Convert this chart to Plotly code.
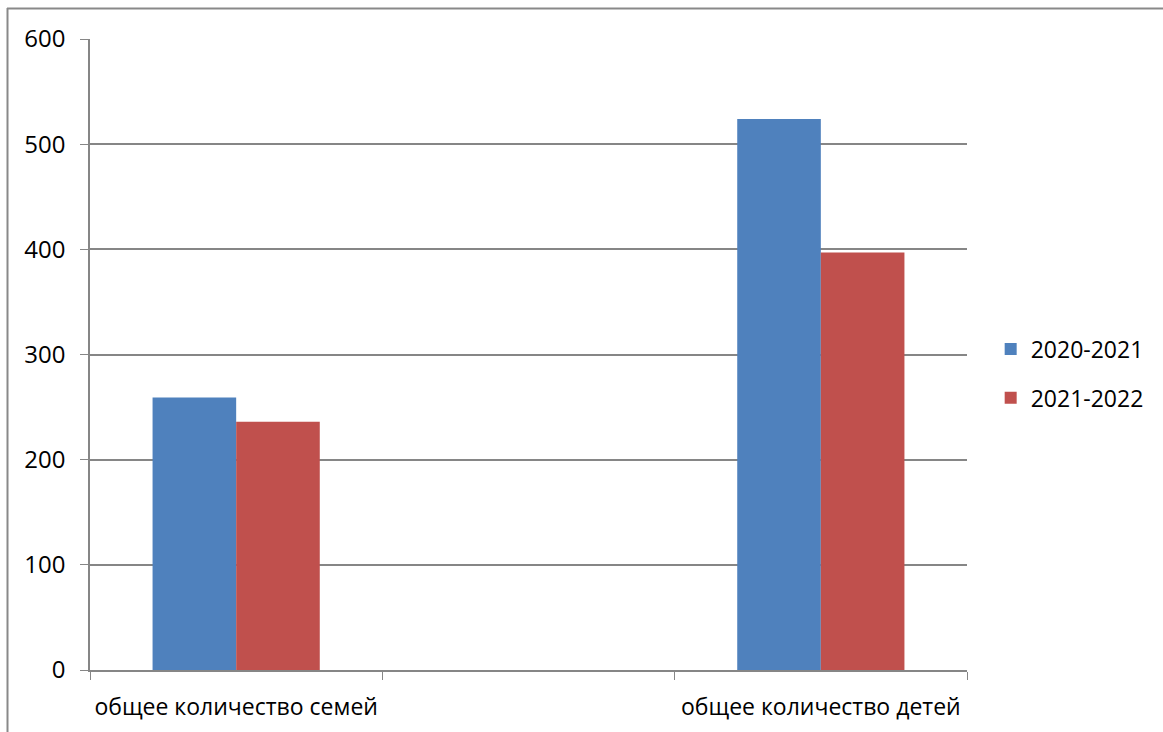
import plotly.graph_objects as go

categories = ["общее количество семей", " ", "общее количество детей"]
series_names = ["2020-2021", "2021-2022"]
values_2020_2021 = [259, None, 524]
values_2021_2022 = [236, None, 397]
colors = ["#4F81BD", "#C0504D"]
y_ticks = [0, 100, 200, 300, 400, 500, 600]

W, H = 1163, 732
L, R, T, B = 90, 196, 39, 62
pw, ph = W - L - R, H - T - B

fig = go.Figure()
for i, (name, vals, col) in enumerate(zip(series_names, [values_2020_2021, values_2021_2022], colors)):
    fig.add_trace(go.Bar(x=categories, y=vals, name=name, marker_color=col,
                         marker_line_width=0, legendgroup=f"g{i}"))

def px2paper_x(px):
    return (px - L) / pw

def px2paper_y(py):
    return (H - B - py) / ph

fig.update_layout(
    width=W, height=H,
    margin=dict(l=L, r=R, t=T, b=B, autoexpand=False),
    paper_bgcolor="white", plot_bgcolor="white",
    font=dict(family="Open Sans", size=23, color="#000000"),
    barmode="group", bargap=0.428, bargroupgap=0,
    showlegend=True,
    legend=dict(x=1.027, y=0.47, xanchor="left", yanchor="middle",
                font=dict(size=23), tracegroupgap=16, itemwidth=30,
                bgcolor="rgba(0,0,0,0)"),
    xaxis=dict(type="category", tickson="boundaries", ticks="outside", ticklen=8,
               tickcolor="#868686", showline=True, linecolor="#868686", linewidth=1.5,
               showgrid=False, tickfont=dict(size=23), range=[-0.5, 2.5],
               ticklabelstandoff=16, tickangle=0, automargin=False),
    yaxis=dict(range=[0, 600], tickvals=y_ticks, ticks="outside", ticklen=8,
               tickcolor="#868686", showline=True, linecolor="#868686", linewidth=1.5,
               showgrid=True, gridcolor="#868686", gridwidth=1.5, zeroline=False,
               tickfont=dict(size=24), ticklabelstandoff=10, automargin=False),
    shapes=[
        dict(type="line", xref="paper", yref="paper",
             x0=px2paper_x(7), x1=px2paper_x(1165), y0=px2paper_y(8.5), y1=px2paper_y(8.5),
             line=dict(color="#898989", width=2)),
        dict(type="line", xref="paper", yref="paper",
             x0=px2paper_x(7.5), x1=px2paper_x(7.5), y0=px2paper_y(8), y1=px2paper_y(735),
             line=dict(color="#898989", width=2)),
    ],
)

fig.write_html("out.html", config={"displayModeBar": False},
               post_script="document.body.style.margin='0';")
